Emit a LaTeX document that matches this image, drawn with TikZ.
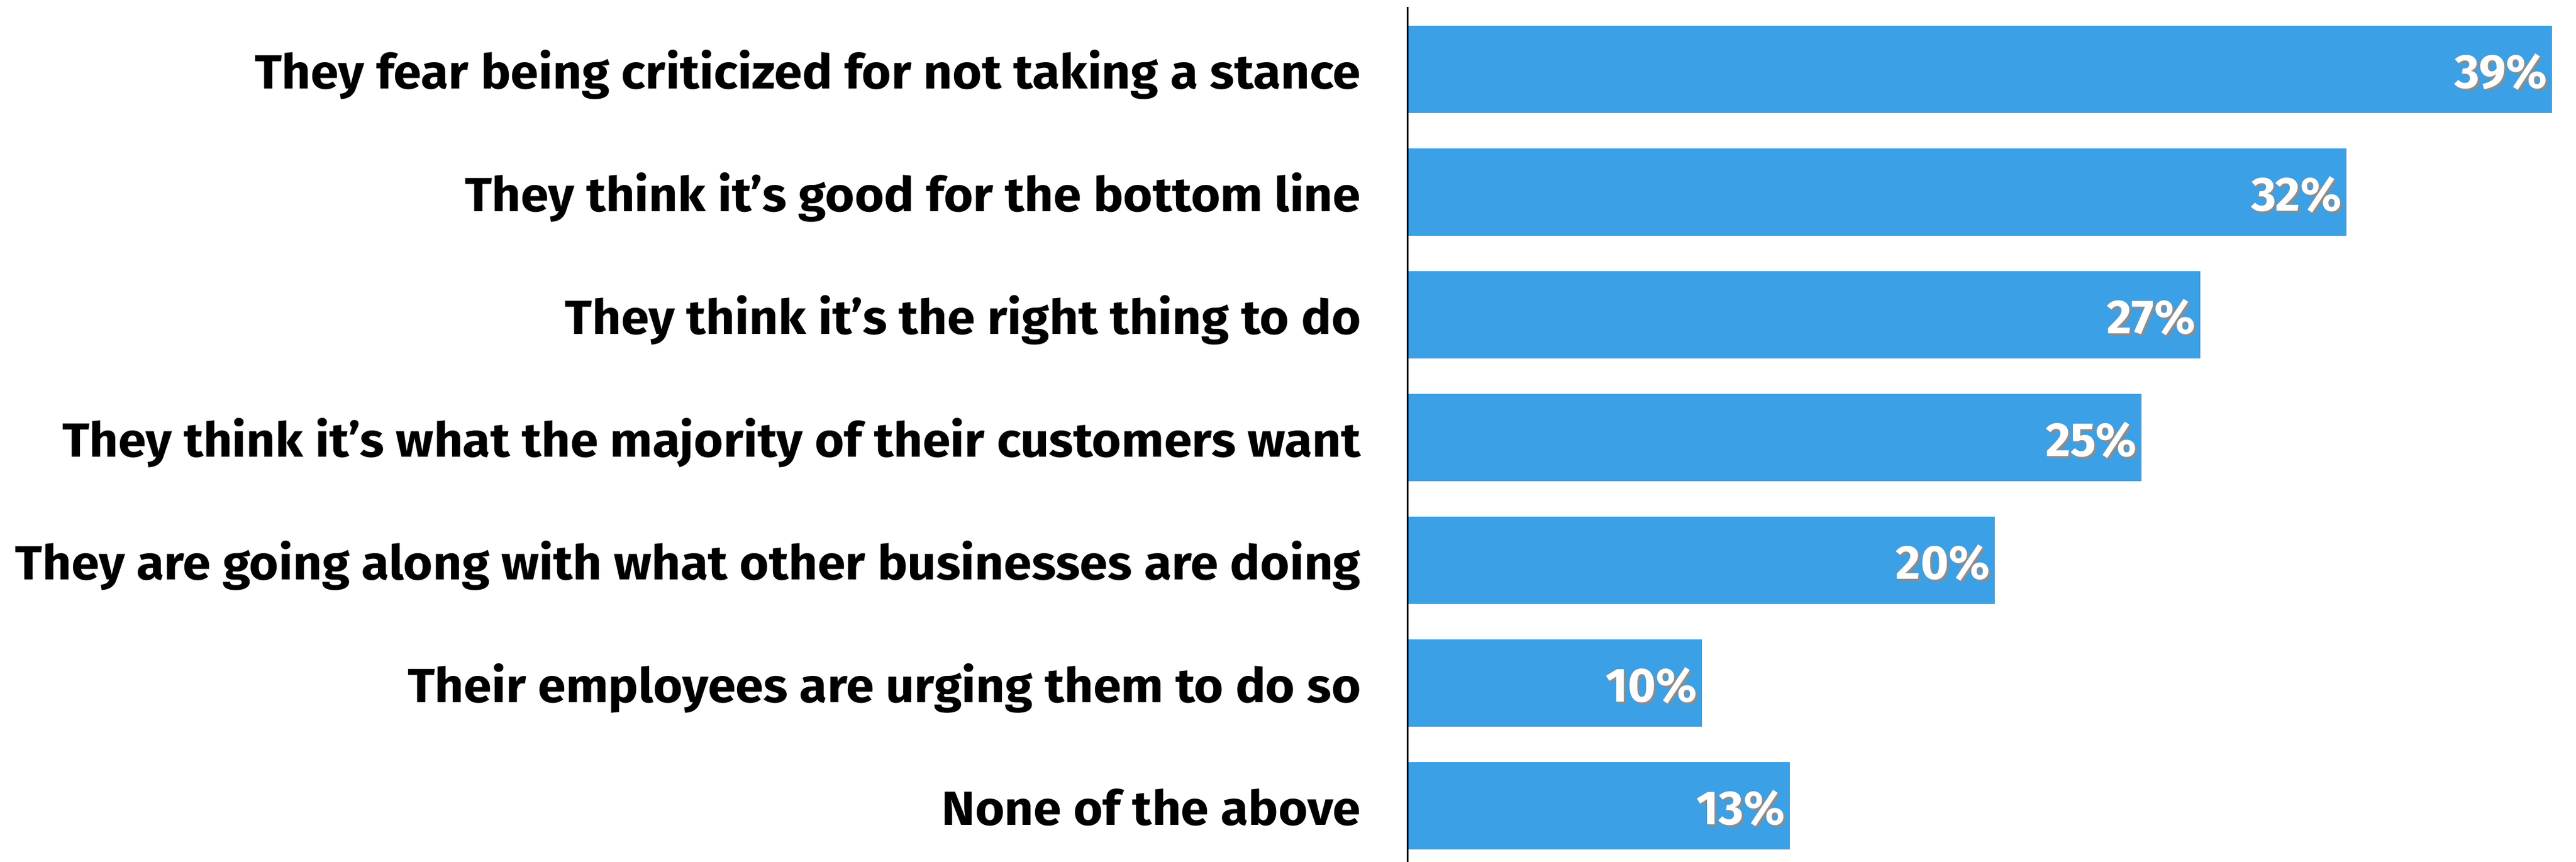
\documentclass[tikz,border=0pt]{standalone}
\usepackage{fontspec}
\setmainfont{Fira Sans}
\newfontfamily\lblfont[FakeStretch=1.05]{Fira Sans}
\usetikzlibrary{positioning}
\definecolor{barblue}{HTML}{3BA0E6}
\newcommand{\shtext}[1]{\rlap{\kern1.1pt\raisebox{-1.1pt}{\textcolor{black!45}{#1}}}#1}

\begin{document}
\begin{tikzpicture}[node distance={8.1mm}, thick,
  bar/.style = {fill=barblue, anchor=west, inner sep=0, minimum height=1.53cm},
  lbl/.style = {inner sep=0, text height=5.8mm, text depth=0pt, yshift=-0.5mm, font=\lblfont\fontsize{23.9}{28}\selectfont\bfseries},
  pct/.style = {inner sep=0, text height=5.7mm, text depth=0pt, yshift=-0.4mm, text=white, font=\fontsize{23.9}{28}\selectfont\bfseries}]
\useasboundingbox (0,0) rectangle (45.12,15.10);
\node[bar, minimum width=20.03cm] (b1) at (24.66,13.88) {};
\node[bar, minimum width=16.43cm] (b2) at (24.66,11.73) {};
\node[bar, minimum width=13.87cm] (b3) at (24.66,9.58) {};
\node[bar, minimum width=12.84cm] (b4) at (24.66,7.43) {};
\node[bar, minimum width=10.27cm] (b5) at (24.66,5.28) {};
\node[bar, minimum width=5.14cm] (b6) at (24.66,3.13) {};
\node[bar, minimum width=6.68cm] (b7) at (24.66,0.98) {};
\node[lbl] (l1) [left=of b1.west] {They fear being criticized for not taking a stance};
\node[lbl] (l2) [left=of b2.west] {They think it’s good for the bottom line};
\node[lbl] (l3) [left=of b3.west] {They think it’s the right thing to do};
\node[lbl] (l4) [left=of b4.west] {They think it’s what the majority of their customers want};
\node[lbl] (l5) [left=of b5.west] {They are going along with what other businesses are doing};
\node[lbl] (l6) [left=of b6.west] {Their employees are urging them to do so};
\node[lbl] (l7) [left=of b7.west] {None of the above};
\node[pct] (p1) [left=0.9mm of b1.east] {\shtext{39\%}};
\node[pct] (p2) [left=0.9mm of b2.east] {\shtext{32\%}};
\node[pct] (p3) [left=0.9mm of b3.east] {\shtext{27\%}};
\node[pct] (p4) [left=0.9mm of b4.east] {\shtext{25\%}};
\node[pct] (p5) [left=0.9mm of b5.east] {\shtext{20\%}};
\node[pct] (p6) [left=0.9mm of b6.east] {\shtext{10\%}};
\node[pct] (p7) [left=0.9mm of b7.east] {\shtext{13\%}};
\coordinate (axtop) at (24.65,14.98);
\coordinate (axbot) at (24.65,0);
\draw[line width=0.85pt] (axtop) -- (axbot);
\end{tikzpicture}
\end{document}
